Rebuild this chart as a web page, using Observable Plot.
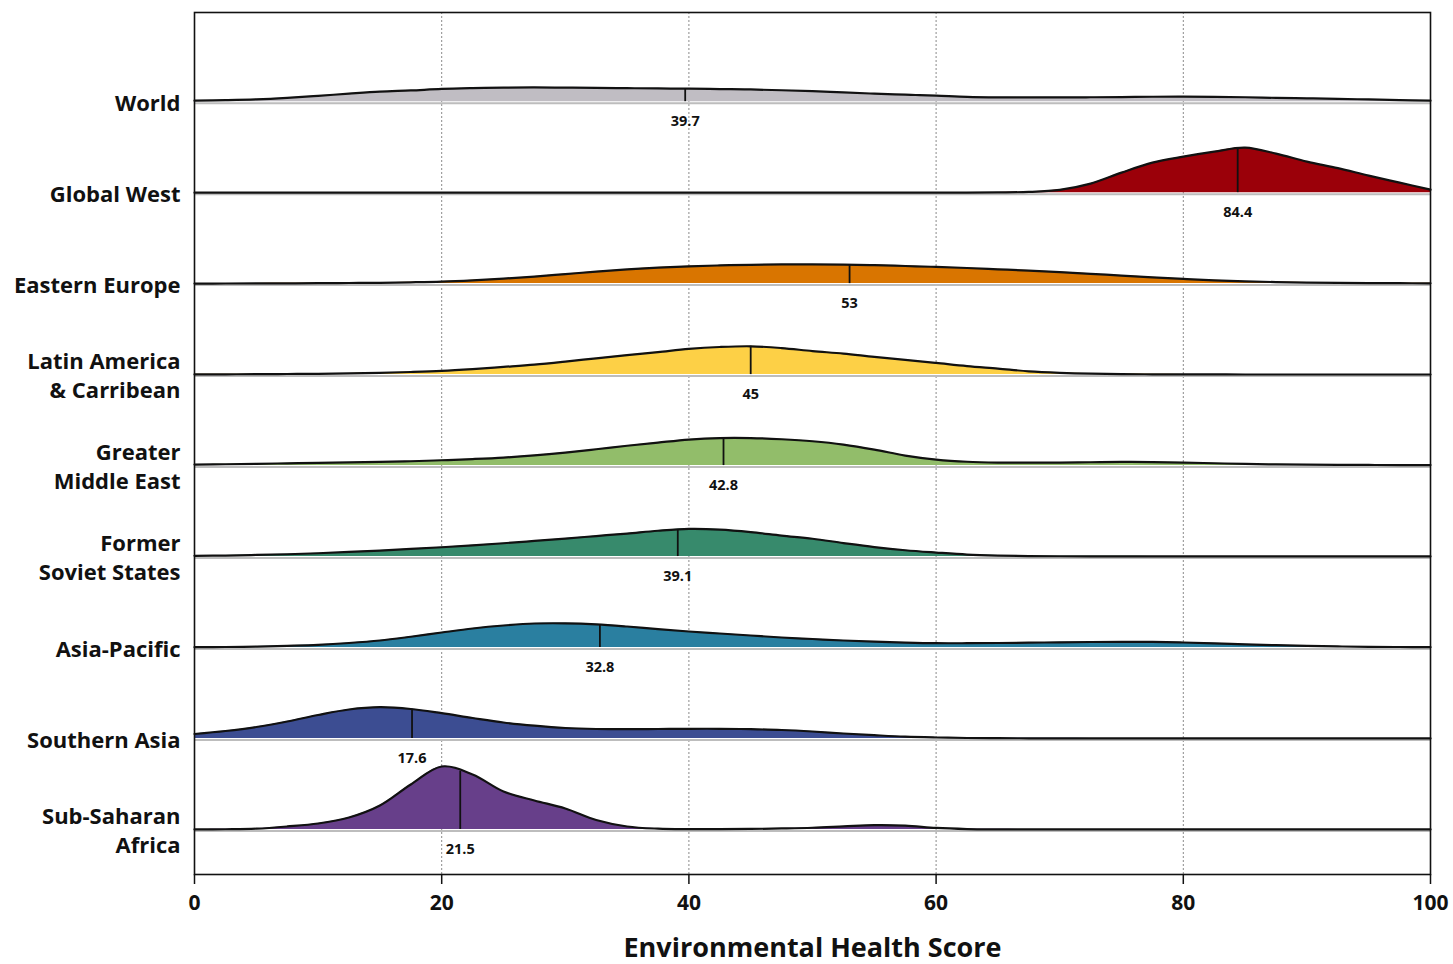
<!DOCTYPE html>
<html><head><meta charset="utf-8">
<script src="https://cdn.jsdelivr.net/npm/d3@7"></script>
<script src="https://cdn.jsdelivr.net/npm/@observablehq/plot@0.6"></script>
<style>body{margin:0;background:#fff} #chart svg{display:block}</style>
</head><body><div id="chart"></div>
<script>
// ---- data ----
const regions = ["World","Global West","Eastern Europe","Latin America & Carribean","Greater Middle East","Former Soviet States","Asia-Pacific","Southern Asia","Sub-Saharan Africa"];
const rowLabels = ["World","Global West","Eastern Europe","Latin America\n& Carribean","Greater\nMiddle East","Former\nSoviet States","Asia-Pacific","Southern Asia","Sub-Saharan\nAfrica"];
const colors = ["#c0bdc3","#9b0009","#d97500","#fdd046","#92bd6a","#378a6c","#2a7fa0","#3c4d92","#673f8a"];
const medians = [39.7, 84.4, 53, 45, 42.8, 39.1, 32.8, 17.6, 21.5];
const scores = [0,2.5,5,7.5,10,12.5,15,17.5,20,22.5,25,27.5,30,32.5,35,37.5,40,42.5,45,47.5,50,52.5,55,57.5,60,62.5,65,67.5,70,72.5,75,77.5,80,82.5,85,87.5,90,92.5,95,97.5,100];
// relative density estimates read at each score
const worldDensity = [1,1.5,2.3,3.8,5.8,8,10,11.2,12.7,13.5,14,14.2,14,13.8,13.5,13.2,13,12.6,12.2,11.4,10.5,9.2,8,7,6,4.8,4.3,4.2,4.3,4.4,4.6,4.9,5,4.8,4.4,3.8,3.3,2.8,2.2,1.6,1];
const globalWestDensity = [0,0,0,0,0,0,0,0,0,0,0,0,0,0,0,0,0,0,0,0,0,0,0,0,0,0,0.2,0.7,2.8,9,20,30,36,41,45,39,31,24.5,17,10,3];
const easternEuropeDensity = [0,0.1,0.2,0.3,0.4,0.6,0.8,1.3,2,3.3,5,7,9.5,12,14.2,16,17.3,18.2,18.8,19.2,19.2,19,18.5,17.6,16.7,15.6,14.3,13,11.5,9.8,8,6.3,4.7,3.3,2.2,1.5,1,0.7,0.5,0.4,0.3];
const latinAmericaDensity = [0.2,0.3,0.4,0.6,0.8,1.2,1.8,2.6,3.7,5.5,7.7,10,13,16.3,19.5,22.5,25.7,27.6,28.3,26.5,23.5,21,17.7,14.8,11.7,8.5,6,3.3,1.8,0.9,0.5,0.3,0.2,0.2,0.1,0.1,0.1,0.1,0.1,0.1,0.1];
const middleEastDensity = [1,1.3,1.7,2.2,2.7,3.1,3.6,4.3,5.3,6.5,8,10.2,13,16.3,19.8,23,26,27.5,27.5,26.3,24.3,21,16,10,6,3.8,3,2.9,3,3.3,3.6,3.5,3,2.3,1.6,1.2,0.9,0.7,0.6,0.5,0.5];
const formerSovietDensity = [0.7,1,1.6,2.3,3.3,4.6,6,7.6,9.3,11.2,13.3,15.6,18,20.5,23,25.8,27.7,27,24.5,21,17.8,13.5,9.5,6.3,4,2,1,0.5,0.3,0.2,0.2,0.1,0.1,0.1,0.1,0.1,0.1,0.1,0.1,0.1,0.1];
const asiaPacificDensity = [0.3,0.5,0.9,1.7,2.7,4.5,7,10.8,15,19,22,24,24.2,23.2,21,18.3,16,14,12,10,8.5,7,5.8,4.9,4.3,4.3,4.5,4.8,5.2,5.5,5.7,5.6,5,4.2,3.2,2.3,1.6,1.1,0.7,0.5,0.3];
const southernAsiaDensity = [4.5,7.5,11.5,17,23.5,29,31.3,29.5,25.3,20.5,16,12.8,10.5,9.5,9.3,9.5,9.7,9.7,9.3,8.5,7,5,3.3,1.8,1,0.5,0.3,0.2,0.2,0.1,0.1,0.1,0.1,0.1,0.1,0.1,0.1,0.1,0.1,0.1,0.1];
const subSaharanDensity = [0,0.2,0.8,3,6,12,24,45,63,55,38,29,21,9.5,3,0.8,0.3,0.3,0.5,1,1.7,3,4.3,3.8,1.5,0.4,0.1,0,0,0,0,0,0,0,0,0,0,0,0,0,0];
const densities = [worldDensity, globalWestDensity, easternEuropeDensity, latinAmericaDensity, middleEastDensity, formerSovietDensity, asiaPacificDensity, southernAsiaDensity, subSaharanDensity];
const xTicks = [0,20,40,60,80,100];
const gridTicks = [20,40,60,80];
const xTitle = "Environmental Health Score";

// ---- build tables ----
const UNITS_PER_ROW = 91; // density units spanning one row spacing
const nRows = regions.length;
const table = regions.flatMap((r, i) => scores.map((s, j) => ({region: r, row: nRows - 1 - i, score: s, density: densities[i][j]})));
function interp(arr, x) {
  for (let j = 0; j < scores.length - 1; j++) {
    if (x >= scores[j] && x <= scores[j + 1]) {
      const t = (x - scores[j]) / (scores[j + 1] - scores[j]);
      return arr[j] + t * (arr[j + 1] - arr[j]);
    }
  }
  return 0;
}
const meta = regions.map((r, i) => ({region: r, label: rowLabels[i], row: nRows - 1 - i, median: medians[i], h: interp(densities[i], medians[i])}));
const ridgeTop = d => d.row + d.density / UNITS_PER_ROW;
const CURVE = "catmull-rom";

const chart = Plot.plot({
  width: 1453,
  height: 964,
  marginLeft: 194,
  marginRight: 23,
  marginTop: 12,
  marginBottom: 90,
  style: {fontFamily: "'Open Sans', Lato, sans-serif", fontSize: "20px", fontWeight: "bold", color: "#111", background: "#fff"},
  x: {domain: [0, 100]},
  y: {domain: [-0.495, 8.98], axis: null},
  color: {domain: regions, range: colors},
  marks: [
    Plot.gridX(gridTicks, {stroke: "#8a8a8a", strokeOpacity: 1, strokeWidth: 1, strokeDasharray: "2,2"}),
    Plot.areaY(table, {x: "score", y1: "row", y2: ridgeTop, z: "region", fill: "region", curve: CURVE}),
    Plot.ruleY(meta, {y: "row", x1: 0, x2: 100, stroke: "#bdbdbd", strokeWidth: 2, dy: 1.5}),
    Plot.lineY(table, {x: "score", y: ridgeTop, z: "region", stroke: "#111", strokeWidth: 2.2, curve: CURVE}),
    Plot.ruleX(meta, {x: "median", y1: "row", y2: d => d.row + d.h / UNITS_PER_ROW, stroke: "#111", strokeWidth: 1.8}),
    Plot.text(meta, {x: "median", y: "row", dy: 20, text: d => String(d.median), fontSize: 14.5, fontWeight: "bold", fill: "#111"}),
    Plot.text(meta, {y: "row", frameAnchor: "left", dx: -14, textAnchor: "end", text: "label", fontSize: 22, fontWeight: "bold", lineHeight: 1.32, fill: "#111"}),
    Plot.frame({stroke: "#111", strokeWidth: 1.6}),
    Plot.axisX({ticks: xTicks, tickSize: 10, tickPadding: 11, tickFormat: d => String(d), label: null, strokeWidth: 1.5, fontSize: 21, fontWeight: "bold"}),
    Plot.text([xTitle], {frameAnchor: "bottom", dy: 82, text: d => d, fontSize: 27, fontWeight: "bold", fill: "#111"})
  ]
});
document.getElementById("chart").append(chart);
</script>
</body></html>
